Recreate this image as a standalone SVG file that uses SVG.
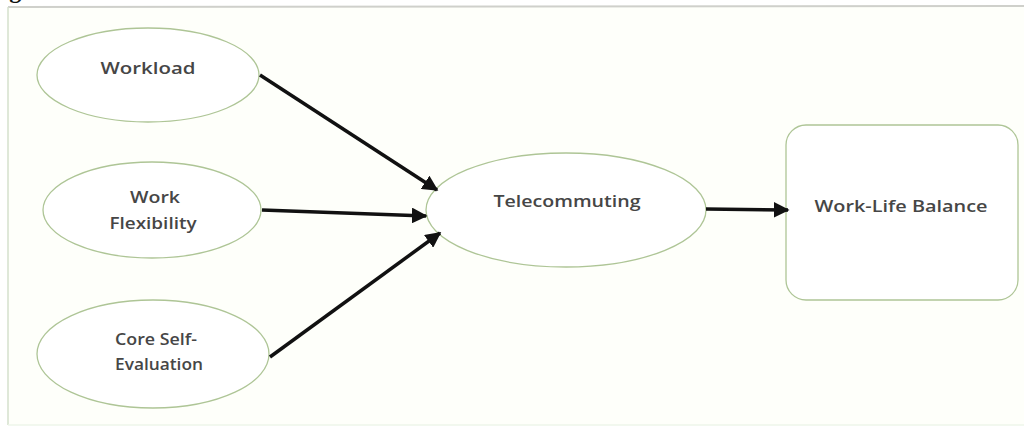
<svg xmlns="http://www.w3.org/2000/svg" width="1024" height="427" viewBox="0 0 1024 427">
  <defs>
    <marker id="arrow" viewBox="0 0 10 10" refX="9" refY="5" markerWidth="4.5" markerHeight="4.5" markerUnits="strokeWidth" orient="auto">
      <path d="M0,0 L10,5 L0,10 z" fill="#111"/>
    </marker>
    <style>
      .node { fill: #ffffff; stroke: #aec596; stroke-width: 1.3; }
      .label { font-family: "Open Sans", "Liberation Sans", sans-serif; font-size: 16px; font-weight: 600; fill: #464646; text-anchor: middle; }
      .edge { stroke: #111111; stroke-width: 3.5; fill: none; marker-end: url(#arrow); }
    </style>
  </defs>

  <rect width="1024" height="427" fill="#ffffff"/>

  <!-- caption, clipped by the top edge -->
  <text x="-12" y="-2" font-family="Liberation Serif, serif" font-size="24" font-weight="bold" fill="#111">Fig</text>

  <!-- frame -->
  <g id="frame">
    <rect x="8" y="7" width="1030" height="418" fill="#fefffa" stroke="none"/>
    <line x1="8" y1="7" x2="1024" y2="6" stroke="#cfd0cb" stroke-width="2"/>
    <line x1="8" y1="7" x2="8" y2="425" stroke="#d5e0cc" stroke-width="1.5"/>
    <line x1="8" y1="425" x2="1024" y2="425" stroke="#eef6ea" stroke-width="1.5"/>
  </g>

  <g id="workload">
    <ellipse class="node" cx="148" cy="75" rx="111" ry="47"/>
    <text class="label" x="148" y="74" textLength="95" lengthAdjust="spacingAndGlyphs">Workload</text>
  </g>

  <g id="work-flexibility">
    <ellipse class="node" cx="152" cy="210" rx="109" ry="48"/>
    <text class="label" x="155" y="203" textLength="50" lengthAdjust="spacingAndGlyphs">Work</text>
    <text class="label" x="153" y="229" textLength="87" lengthAdjust="spacingAndGlyphs">Flexibility</text>
  </g>

  <g id="core-self-evaluation">
    <ellipse class="node" cx="153" cy="354" rx="116" ry="54"/>
    <text class="label" x="156" y="345" textLength="82" lengthAdjust="spacingAndGlyphs">Core Self-</text>
    <text class="label" x="159" y="370" textLength="88" lengthAdjust="spacingAndGlyphs">Evaluation</text>
  </g>

  <g id="telecommuting">
    <ellipse class="node" cx="566" cy="210" rx="140" ry="57"/>
    <text class="label" x="567" y="207" textLength="147" lengthAdjust="spacingAndGlyphs">Telecommuting</text>
  </g>

  <g id="work-life-balance">
    <rect class="node" x="786" y="125" width="232" height="175" rx="20" ry="20"/>
    <text class="label" x="901" y="212" textLength="173" lengthAdjust="spacingAndGlyphs">Work-Life Balance</text>
  </g>

  <g id="connectors">
    <line class="edge" x1="260" y1="75" x2="437" y2="190"/>
    <line class="edge" x1="262" y1="210" x2="426" y2="216"/>
    <line class="edge" x1="270" y1="357" x2="440" y2="233"/>
    <line class="edge" x1="706" y1="209" x2="788" y2="210"/>
  </g>
</svg>
